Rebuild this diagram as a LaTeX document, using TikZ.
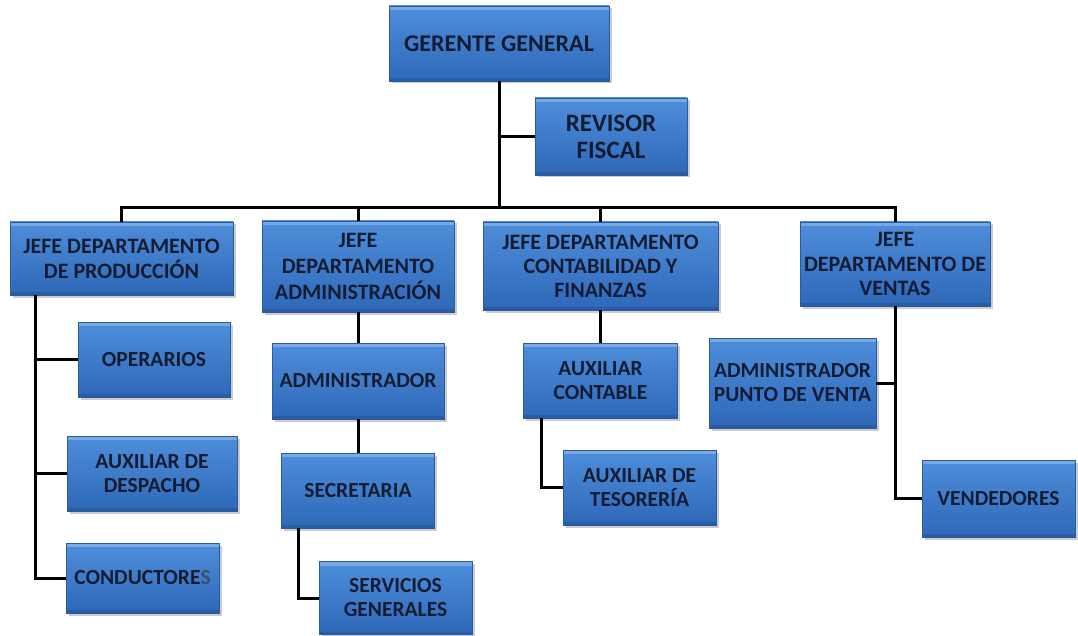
\documentclass[tikz,border=0pt]{standalone}
\usepackage{fontspec}
\setmainfont{Carlito}
\usetikzlibrary{shadows}
\definecolor{boxtop}{RGB}{78,142,218}
\definecolor{boxbot}{RGB}{46,104,184}
\definecolor{boxedge}{RGB}{42,90,160}
\definecolor{txt}{RGB}{20,28,52}
\definecolor{txtlight}{RGB}{62,78,110}
\tikzset{
  orgbox/.style={draw=boxedge, line width=0.6pt, top color=boxtop, bottom color=boxbot,
    drop shadow={opacity=0.4, shadow xshift=2.5pt, shadow yshift=-2.5pt},
    inner sep=0pt, align=center, text=txt,
    font=\bfseries\fontsize{21.5}{24}\selectfont,
    path picture={\fill[white,opacity=0.25] (path picture bounding box.north west) rectangle ([yshift=-4pt]path picture bounding box.north east);
                  \fill[black,opacity=0.12] (path picture bounding box.south west) rectangle ([yshift=3pt]path picture bounding box.south east);}},
  conn/.style={line width=3pt, black}
}
\begin{document}
\begin{tikzpicture}[x=1pt,y=-1pt]
\fill[white] (0,0) rectangle (1078,636);
\useasboundingbox (0,0) rectangle (1078,636);
% boxes
\node[orgbox, minimum width=220pt, minimum height=75pt, font=\bfseries\fontsize{24}{27}\selectfont] (GG) at (499,43.5) {GERENTE GENERAL};
\node[orgbox, minimum width=152pt, minimum height=77pt, font=\bfseries\fontsize{25}{27}\selectfont] (RF) at (611,136.5) {REVISOR\\FISCAL};
\node[orgbox, minimum width=223pt, minimum height=73pt, font=\bfseries\fontsize{22}{25}\selectfont] (JP) at (121.5,258.5) {JEFE DEPARTAMENTO\\DE PRODUCCIÓN};
\node[orgbox, minimum width=192pt, minimum height=91pt, font=\bfseries\fontsize{22}{26}\selectfont] (JA) at (358,266.5) {JEFE\\DEPARTAMENTO\\ADMINISTRACIÓN};
\node[orgbox, minimum width=235pt, minimum height=88pt, font=\bfseries\fontsize{22}{24}\selectfont] (JC) at (600.5,266) {JEFE DEPARTAMENTO\\CONTABILIDAD Y\\FINANZAS};
\node[orgbox, minimum width=190pt, minimum height=84pt, font=\bfseries\fontsize{22}{24.5}\selectfont] (JV) at (895,264) {JEFE\\DEPARTAMENTO DE\\VENTAS};
\node[orgbox, minimum width=152pt, minimum height=75pt] (OP) at (154,359.5) {OPERARIOS};
\node[orgbox, minimum width=170pt, minimum height=75pt] (AD) at (152,473.5) {AUXILIAR DE\\DESPACHO};
\node[orgbox, minimum width=153pt, minimum height=70pt] (CO) at (142.5,578) {CONDUCTORE{\color{txtlight}S}};
\node[orgbox, minimum width=172pt, minimum height=76pt] (ADM) at (358,381) {ADMINISTRADOR};
\node[orgbox, minimum width=153pt, minimum height=75pt] (SEC) at (358,490.5) {SECRETARIA};
\node[orgbox, minimum width=153pt, minimum height=73pt] (SG) at (395.5,598) {SERVICIOS\\GENERALES};
\node[orgbox, minimum width=154pt, minimum height=75pt] (AC) at (600.5,380.5) {AUXILIAR\\CONTABLE};
\node[orgbox, minimum width=153pt, minimum height=75pt] (AT) at (639.5,487.5) {AUXILIAR DE\\TESORERÍA};
\node[orgbox, minimum width=167pt, minimum height=90pt] (APV) at (792.5,383) {ADMINISTRADOR\\PUNTO DE VENTA};
\node[orgbox, minimum width=153pt, minimum height=77pt] (VE) at (998.5,498.5) {VENDEDORES};
% helper coordinates
\coordinate (bus) at (0,208);
\coordinate (pl) at (35,0);
\coordinate (sx) at (298,0);
\coordinate (ax) at (541,0);
% connectors
\draw[conn] (GG.south) -- (GG.south |- bus);
\draw[conn] (RF.west -| GG.south) -- (RF.west);
\draw[conn] (JP.north) -- (JP.north |- bus) -- (JV.north |- bus) -- (JV.north);
\draw[conn] (JA.north |- bus) -- (JA.north);
\draw[conn] (JC.north |- bus) -- (JC.north);
\draw[conn] (JP.south -| pl) -- (CO.west -| pl) -- (CO.west);
\draw[conn] (OP.west -| pl) -- (OP.west);
\draw[conn] (AD.west -| pl) -- (AD.west);
\draw[conn] (JA.south) -- (ADM.north);
\draw[conn] (ADM.south) -- (SEC.north);
\draw[conn] (SEC.south -| sx) -- (SG.west -| sx) -- (SG.west);
\draw[conn] (JC.south) -- (AC.north);
\draw[conn] (AC.south -| ax) -- (AT.west -| ax) -- (AT.west);
\draw[conn] (JV.south) -- (JV.south |- VE.west) -- (VE.west);
\draw[conn] (APV.east) -- (APV.east -| JV.south);
\end{tikzpicture}
\end{document}
